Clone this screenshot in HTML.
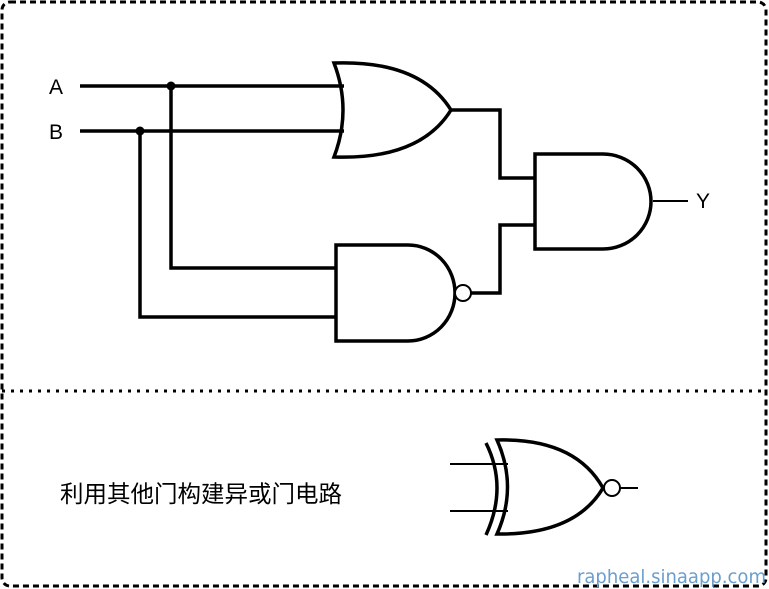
<!DOCTYPE html>
<html><head><meta charset="utf-8"><style>
html,body{margin:0;padding:0;background:#fff;width:769px;height:589px;overflow:hidden}
</style></head><body>
<svg width="769" height="589" viewBox="0 0 769 589" xmlns="http://www.w3.org/2000/svg" font-family="Liberation Sans, sans-serif">
<rect x="2" y="2" width="764" height="584" rx="8" fill="none" stroke="#000" stroke-width="3" stroke-dasharray="6,4"/>
<line x1="2" y1="391" x2="766" y2="391" stroke="#000" stroke-width="3" stroke-dasharray="3,6"/>
<g fill="none" stroke="#000" stroke-width="3.5">
<path d="M80 86H344M80 131H344"/>
<path d="M171 86V268H336M140 131V317H336"/>
<path d="M334 63Q352 110 334 157Q420 160 451 110Q420 60 334 63Z"/>
<path d="M451 110H500V178H535M471 293H500V225H535"/>
<path d="M535 154H603A48 47.5 0 0 1 603 249H535Z"/>
<path d="M336 245H408A47 48 0 0 1 408 341H336Z"/>
</g>
<circle cx="463" cy="293" r="8" fill="#fff" stroke="#000" stroke-width="2"/>
<line x1="653" y1="201" x2="688" y2="201" stroke="#000" stroke-width="2"/>
<text x="49" y="94" font-size="21">A</text>
<text x="49" y="139" font-size="21">B</text>
<text x="696" y="208" font-size="21">Y</text>
<circle cx="171" cy="86" r="4.5"/><circle cx="140" cy="131" r="4.5"/>
<g fill="none" stroke="#000">
<path d="M450 464H508M450 511H508" stroke-width="2"/>
<path d="M486 443Q508 487 486 535" stroke-width="3.5"/>
<path d="M497 440Q518 487 497 534Q575 535 603 488Q575 438 497 440Z" stroke-width="3.5"/>
<circle cx="612" cy="488" r="8" fill="#fff" stroke-width="2"/>
<line x1="620" y1="488" x2="638" y2="488" stroke-width="2"/>
</g>
<text x="60" y="502" font-size="23.5" font-family="Liberation Sans, Noto Sans CJK SC, sans-serif">利用其他门构建异或门电路</text>
<text x="577" y="583" font-size="19" fill="#6a9ecf" font-family="DejaVu Sans, sans-serif" textLength="189" lengthAdjust="spacingAndGlyphs">rapheal.sinaapp.com</text>
</svg>
</body></html>
